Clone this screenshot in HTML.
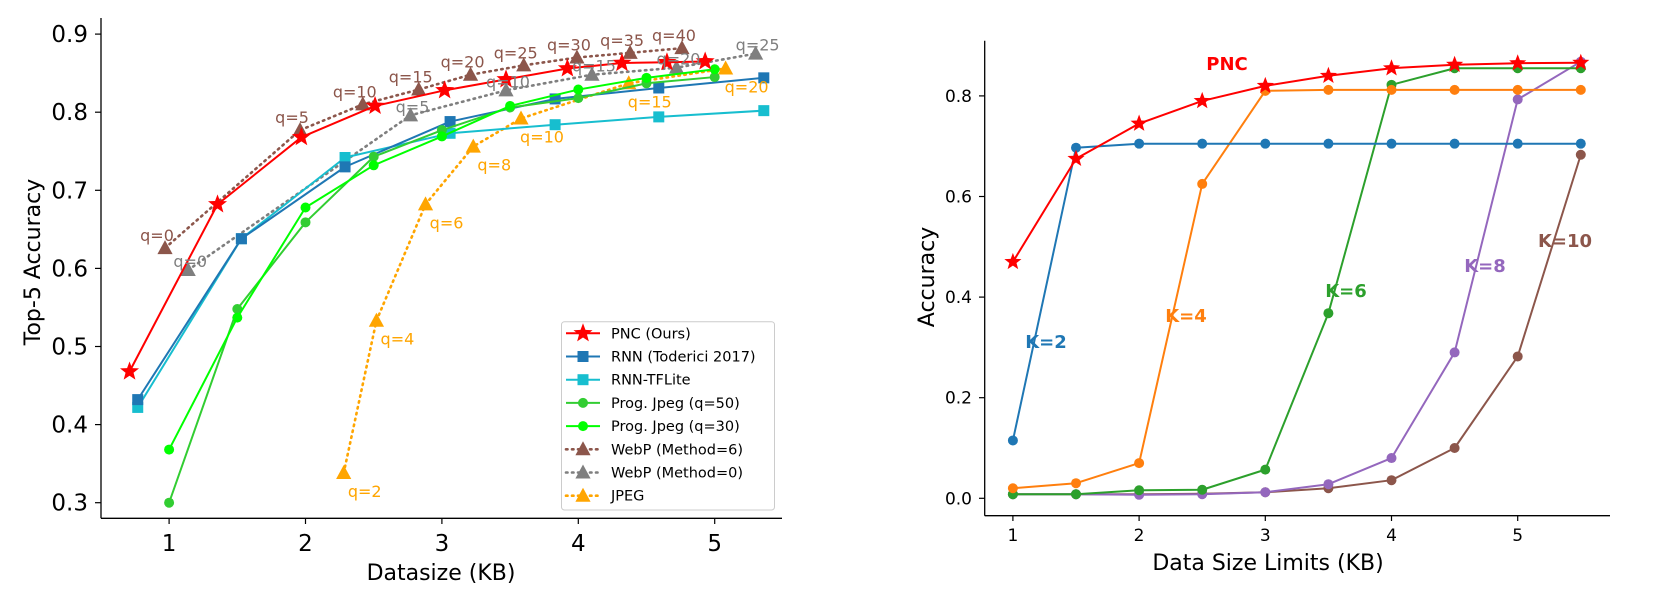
<!DOCTYPE html>
<html><head><meta charset="utf-8"><style>
html,body{margin:0;padding:0;background:#fff;}
svg{display:block;font-family:"DejaVu Sans","Liberation Sans",sans-serif;}
</style></head><body>
<svg id="fig" width="1666" height="604" viewBox="0 0 1666 604" xmlns="http://www.w3.org/2000/svg">
<g id="left"></g>
<g id="right"></g>
</svg>
<script>
// ---------- Left chart data ----------
const pncX = [0.71,1.355,1.97,2.51,3.02,3.47,3.92,4.32,4.65,4.93];
const pncY = [0.468,0.682,0.768,0.808,0.828,0.842,0.856,0.863,0.864,0.865];
const rnnX = [0.77,1.53,2.29,3.06,3.83,4.59,5.36];
const rnnY = [0.432,0.638,0.730,0.788,0.817,0.831,0.844];
const tfliteX = [0.77,1.53,2.29,3.06,3.83,4.59,5.36];
const tfliteY = [0.422,0.638,0.742,0.773,0.784,0.794,0.802];
const pj50X = [1,1.5,2,2.5,3,3.5,4,4.5,5];
const pj50Y = [0.300,0.548,0.659,0.743,0.777,0.806,0.818,0.837,0.845];
const pj30X = [1,1.5,2,2.5,3,3.5,4,4.5,5];
const pj30Y = [0.368,0.537,0.678,0.732,0.769,0.808,0.829,0.844,0.855];
const webp6X = [0.97,1.96,2.42,2.83,3.21,3.60,3.99,4.38,4.76];
const webp6Y = [0.626,0.777,0.810,0.829,0.848,0.860,0.870,0.876,0.882];
const webp6Q = ["q=0","q=5","q=10","q=15","q=20","q=25","q=30","q=35","q=40"];
const webp0X = [1.14,2.77,3.47,4.10,4.72,5.30];
const webp0Y = [0.598,0.796,0.828,0.848,0.857,0.875];
const webp0Q = ["q=0","q=5","q=10","q=15","q=20","q=25"];
const jpegX = [2.28,2.52,2.88,3.23,3.58,4.37,5.08];
const jpegY = [0.338,0.533,0.682,0.756,0.792,0.837,0.856];
const jpegQ = ["q=2","q=4","q=6","q=8","q=10","q=15","q=20"];
const leftXTicks = [1,2,3,4,5];
const leftYTicks = [0.3,0.4,0.5,0.6,0.7,0.8,0.9];
const legendLabels = ["PNC (Ours)","RNN (Toderici 2017)","RNN-TFLite","Prog. Jpeg (q=50)","Prog. Jpeg (q=30)","WebP (Method=6)","WebP (Method=0)","JPEG"];

// ---------- Right chart data ----------
const rX = [1,1.5,2,2.5,3,3.5,4,4.5,5,5.5];
const rPNC = [0.47,0.675,0.745,0.79,0.82,0.84,0.855,0.862,0.865,0.866];
const rK2 = [0.115,0.697,0.705,0.705,0.705,0.705,0.705,0.705,0.705,0.705];
const rK4 = [0.02,0.03,0.07,0.625,0.81,0.812,0.812,0.812,0.812,0.812];
const rK6 = [0.008,0.008,0.016,0.017,0.057,0.368,0.822,0.855,0.855,0.855];
const rK8 = [0.008,0.008,0.007,0.008,0.012,0.028,0.08,0.29,0.793,0.868];
const rK10 = [0.008,0.008,0.008,0.009,0.012,0.02,0.036,0.1,0.282,0.683];
const rightXTicks = [1,2,3,4,5];
const rightYTicks = [0.0,0.2,0.4,0.6,0.8];

const NS="http://www.w3.org/2000/svg";
function el(tag, attrs, parent){
  const e=document.createElementNS(NS,tag);
  for(const k in attrs) e.setAttribute(k,attrs[k]);
  if(parent) parent.appendChild(e);
  return e;
}
function starPath(cx,cy,R){
  const r=R*0.42; let d="";
  for(let i=0;i<10;i++){
    const a=-Math.PI/2+i*Math.PI/5; const rr=i%2?r:R;
    d+=(i?"L":"M")+(cx+rr*Math.cos(a)).toFixed(2)+","+(cy+rr*Math.sin(a)).toFixed(2);
  }
  return d+"Z";
}
function marker(g,type,x,y,color,size){
  let m;
  if(type==="star"){ m=el("path",{d:starPath(x,y,size),fill:color},g); }
  else if(type==="square"){ m=el("rect",{x:x-size,y:y-size,width:2*size,height:2*size,fill:color},g); }
  else if(type==="circle"){ m=el("circle",{cx:x,cy:y,r:size,fill:color},g); }
  else { m=el("path",{d:`M${x},${y-size}L${x+size*0.95},${y+size*0.75}L${x-size*0.95},${y+size*0.75}Z`,fill:color},g); }
  return m;
}

// ===== LEFT =====
const L=document.getElementById("left");
const lx=v=>169.1+(v-1)*136.4;
const ly=v=>502.7-(v-0.3)*781;
el("line",{x1:101,y1:18,x2:101,y2:518.3,stroke:"#000","stroke-width":1.3},L);
el("line",{x1:101,y1:518.3,x2:782,y2:518.3,stroke:"#000","stroke-width":1.3},L);
leftYTicks.forEach(t=>{
  el("line",{x1:95,y1:ly(t),x2:101,y2:ly(t),stroke:"#000","stroke-width":1.2},L);
  const tx=el("text",{x:88,y:ly(t)+8,"text-anchor":"end","font-size":23},L);
  tx.textContent=t.toFixed(1);
  
  
});
leftXTicks.forEach(t=>{
  el("line",{x1:lx(t),y1:518.3,x2:lx(t),y2:524,stroke:"#000","stroke-width":1.2},L);
  const tx=el("text",{x:lx(t),y:551,"text-anchor":"middle","font-size":23},L);
  tx.textContent=t;
  
  
});
{
  const t=el("text",{x:441,y:580,"text-anchor":"middle","font-size":22},L);
  t.textContent="Datasize (KB)";
  
  
  const t2=el("text",{x:0,y:0,"text-anchor":"middle","font-size":22,transform:"translate(40,262) rotate(-90)"},L);
  t2.textContent="Top-5 Accuracy";
  
  
}
function series(g,xs,ys,fx,fy,color,mtype,msize,dash,width,name){
  const sg=el("g",{},g);
  
  
  const pts=xs.map((x,i)=>fx(x).toFixed(2)+","+fy(ys[i]).toFixed(2)).join(" ");
  const a={points:pts,fill:"none",stroke:color,"stroke-width":width,"stroke-linejoin":"round"};
  if(dash){a["stroke-dasharray"]="1.5,4.5";a["stroke-linecap"]="round";a["stroke-width"]=2.6;}
  el("polyline",a,sg);
  xs.forEach((x,i)=>{
    const m=marker(sg,mtype,fx(x),fy(ys[i]),color,msize);
    
    
  });
  return sg;
}
function labels(g,xs,ys,qs,fx,fy,dx,dy,color,name){
  qs.forEach((q,i)=>{
    const t=el("text",{x:fx(xs[i])+dx,y:fy(ys[i])+dy+6,"text-anchor":"middle","font-size":16,fill:color},g);
    t.textContent=q;
    
    
  });
}
series(L,jpegX,jpegY,lx,ly,"#ffa500","tri",8,true,2,"jpeg-series");
series(L,webp0X,webp0Y,lx,ly,"#7f7f7f","tri",8,true,2,"webp-method0-series");
series(L,webp6X,webp6Y,lx,ly,"#8c564b","tri",8,true,2,"webp-method6-series");
series(L,tfliteX,tfliteY,lx,ly,"#17becf","square",5.5,false,2,"rnn-tflite-series");
series(L,rnnX,rnnY,lx,ly,"#1f77b4","square",5.5,false,2,"rnn-toderici-series");
series(L,pj50X,pj50Y,lx,ly,"#32cd32","circle",5,false,2,"prog-jpeg-q50-series");
series(L,pj30X,pj30Y,lx,ly,"#00ff00","circle",5,false,2,"prog-jpeg-q30-series");
series(L,pncX,pncY,lx,ly,"#ff0000","star",10,false,2,"pnc-series");
labels(L,webp6X,webp6Y,webp6Q,lx,ly,-8,-13,"#8c564b","webp6-q-label");
labels(L,webp0X,webp0Y,webp0Q,lx,ly,2,-9,"#7f7f7f","webp0-q-label");
labels(L,jpegX,jpegY,jpegQ,lx,ly,21,18,"#ffa500","jpeg-q-label");

// legend
{
  const lg=el("g",{},L);
  
  
  el("rect",{x:561.5,y:321.7,width:213,height:188.3,rx:3,fill:"#fff","fill-opacity":0.85,stroke:"#ccc","stroke-width":1},lg);
  const cols=["#ff0000","#1f77b4","#17becf","#32cd32","#00ff00","#8c564b","#7f7f7f","#ffa500"];
  const mk=["star","square","square","circle","circle","tri","tri","tri"];
  const ms=[10,5.5,5.5,5,5,8,8,8];
  legendLabels.forEach((lab,i)=>{
    const y=333.3+i*23.2;
    const e=el("g",{},lg);
    
    
    const a={x1:566,y1:y,x2:600,y2:y,stroke:cols[i],"stroke-width":2};
    if(i>=5){a["stroke-dasharray"]="1.5,4.5";a["stroke-linecap"]="round";a["stroke-width"]=2.6;}
    el("line",a,e);
    marker(e,mk[i],583,y,cols[i],ms[i]);
    const t=el("text",{x:611,y:y+5,"font-size":14.5},e);
    t.textContent=lab;
  });
}

// ===== RIGHT =====
const R=document.getElementById("right");
const rx=v=>1012.9+(v-1)*126.2;
const ry=v=>498.3-v*503;
el("line",{x1:984.7,y1:40.7,x2:984.7,y2:515.7,stroke:"#000","stroke-width":1.3},R);
el("line",{x1:984.7,y1:515.7,x2:1610,y2:515.7,stroke:"#000","stroke-width":1.3},R);
rightYTicks.forEach(t=>{
  el("line",{x1:979,y1:ry(t),x2:984.7,y2:ry(t),stroke:"#000","stroke-width":1.2},R);
  const tx=el("text",{x:972,y:ry(t)+6,"text-anchor":"end","font-size":17},R);
  tx.textContent=t.toFixed(1);
  
  
});
rightXTicks.forEach(t=>{
  el("line",{x1:rx(t),y1:515.7,x2:rx(t),y2:521,stroke:"#000","stroke-width":1.2},R);
  const tx=el("text",{x:rx(t),y:541,"text-anchor":"middle","font-size":17},R);
  tx.textContent=t;
  
  
});
{
  const t=el("text",{x:1268,y:570,"text-anchor":"middle","font-size":22},R);
  t.textContent="Data Size Limits (KB)";
  
  
  const t2=el("text",{x:0,y:0,"text-anchor":"middle","font-size":22,transform:"translate(934,277) rotate(-90)"},R);
  t2.textContent="Accuracy";
  
  
}
series(R,rX,rK10,rx,ry,"#8c564b","circle",5,false,2,"k10-series");
series(R,rX,rK8,rx,ry,"#9467bd","circle",5,false,2,"k8-series");
series(R,rX,rK6,rx,ry,"#2ca02c","circle",5,false,2,"k6-series");
series(R,rX,rK4,rx,ry,"#ff7f0e","circle",5,false,2,"k4-series");
series(R,rX,rK2,rx,ry,"#1f77b4","circle",5,false,2,"k2-series");
series(R,rX,rPNC,rx,ry,"#ff0000","star",9,false,2,"pnc-right-series");
[["PNC",1227,63,"#ff0000"],["K=2",1046,341,"#1f77b4"],["K=4",1186,315,"#ff7f0e"],["K=6",1346,290,"#2ca02c"],["K=8",1485,265,"#9467bd"],["K=10",1565,240,"#8c564b"]].forEach(a=>{
  const t=el("text",{x:a[1],y:a[2]+7,"text-anchor":"middle","font-size":18,"font-weight":"bold",fill:a[3]},R);
  t.textContent=a[0];
  
  
});
</script>
</body></html>
